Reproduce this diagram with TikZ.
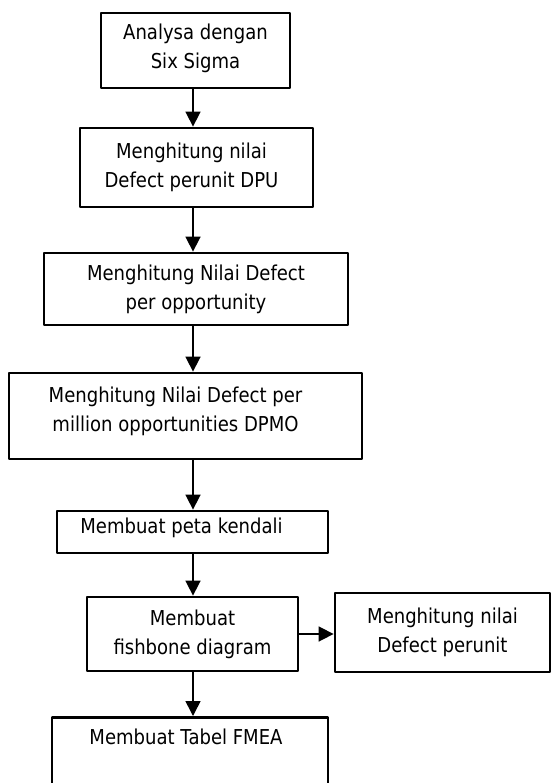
\documentclass[tikz,border=0pt]{standalone}
\usepackage{fontspec}
\setmainfont{DejaVu Sans}[FakeStretch=0.88]
\usetikzlibrary{arrows.meta,positioning}

\begin{document}
\begin{tikzpicture}[x=1pt,y=-1pt,line join=round,
    stepbox/.style={draw,line width=2.8pt,align=center,inner sep=0pt,
      font=\fontsize{20.5}{29}\selectfont},
    flow/.style={-{Triangle[width=15pt,length=15pt]},line width=1.6pt}]
  \useasboundingbox (0,0) rectangle (551,783);
  \clip (0,0) rectangle (551,783);
  % --- main column of steps ---
  \node[stepbox,minimum width=189,minimum height=75,text depth=9pt] (sixsigma) at (195.5,50.5)
    {Analysa dengan\\Six Sigma};
  \node[stepbox,minimum width=233,minimum height=79] (dpu) at (196.5,167.5)
    {Menghitung nilai\hspace*{10pt}\\Defect perunit DPU\hspace*{10pt}};
  \node[stepbox,minimum width=304,minimum height=72] (dpo) at (196,289)
    {Menghitung Nilai Defect\\per opportunity};
  \node[stepbox,minimum width=353,minimum height=86,text depth=13pt] (dpmo) at (185.5,416)
    {Menghitung Nilai Defect per\hspace*{20pt}\\million opportunities DPMO\hspace*{20pt}};
  \node[stepbox,minimum width=271,minimum height=42,text depth=12pt] (peta) at (192.5,532)
    {Membuat peta kendali\hspace*{22pt}};
  \node[stepbox,minimum width=211,minimum height=74] (fishbone) at (192.5,634)
    {Membuat\\fishbone diagram};
  \node[stepbox,minimum width=276,text depth=70pt,inner ysep=12pt,anchor=north] (fmea)
    at (190,716) {Membuat Tabel FMEA\hspace*{8pt}};
  % side step
  \node[stepbox,minimum width=215,minimum height=79] (defect) at (442.5,632.5)
    {Menghitung nilai\\Defect perunit};
  % --- connectors ---
  \coordinate (spine) at (193,0);
  \draw[flow] (sixsigma.south -| spine) -- (dpu.north -| spine);
  \draw[flow] (dpu.south -| spine) -- (dpo.north -| spine);
  \draw[flow] (dpo.south -| spine) -- (dpmo.north -| spine);
  \draw[flow] (dpmo.south -| spine) -- (peta.north -| spine);
  \draw[flow] (peta.south -| spine) -- (fishbone.north -| spine);
  \draw[flow] (fishbone.south -| spine) -- (fmea.north -| spine);
  \draw[flow] (fishbone.east) -- (defect.west |- fishbone.east);
\end{tikzpicture}
\end{document}
